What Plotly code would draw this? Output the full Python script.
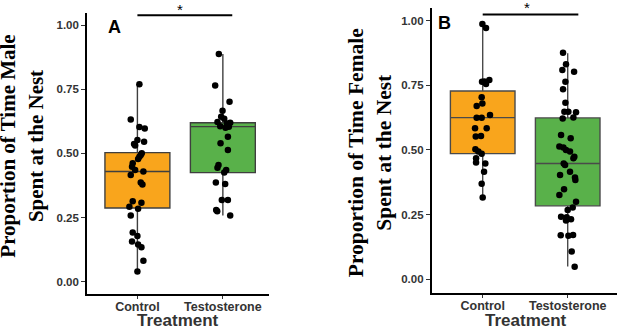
import plotly.graph_objects as go

# ---------------- data ----------------
categories = ["Control", "Testosterone"]
y_ticks = [0.0, 0.25, 0.50, 0.75, 1.00]
y_tick_labels = ["0.00", "0.25", "0.50", "0.75", "1.00"]

# Panel A (male)
male_control = [0.769, 0.632, 0.603, 0.597, 0.552, 0.545, 0.536, 0.531, 0.500, 0.494,
                0.487, 0.478, 0.461, 0.448, 0.435, 0.429, 0.416, 0.386, 0.379, 0.313,
                0.308, 0.292, 0.284, 0.258, 0.192, 0.178, 0.157, 0.145, 0.134, 0.082, 0.040]
male_control_jit = [0.023, -0.078, 0.023, 0.086, 0.0, 0.078, -0.039, -0.027, 0.051, 0.039,
                    0.023, 0.008, -0.055, -0.063, -0.027, 0.070, -0.078, 0.039, 0.059, -0.055,
                    0.047, -0.094, 0.008, -0.078, -0.055, 0.0, -0.063, 0.008, 0.047, 0.070, 0.0]
male_testo = [0.887, 0.764, 0.701, 0.666, 0.643, 0.635, 0.622, 0.619, 0.616, 0.606,
              0.604, 0.600, 0.565, 0.539, 0.513, 0.455, 0.444, 0.435, 0.425, 0.386,
              0.381, 0.318, 0.318, 0.279, 0.274, 0.258]
male_testo_jit = [-0.047, -0.090, 0.078, -0.004, -0.020, 0.016, -0.063, 0.086, 0.047, -0.031,
                  0.070, 0.031, 0.059, -0.027, 0.059, -0.051, -0.063, 0.039, 0.016, -0.082,
                  0.027, -0.012, 0.059, -0.078, -0.066, 0.086]
# box stats: [Control, Testosterone]
male_q1 = [0.287, 0.425]
male_median = [0.429, 0.604]
male_q3 = [0.503, 0.619]
male_low = [0.040, 0.258]
male_high = [0.769, 0.887]

# Panel B (female)
female_control = [0.987, 0.972, 0.764, 0.765, 0.771, 0.755, 0.704, 0.680, 0.670, 0.635,
                  0.625, 0.625, 0.584, 0.584, 0.552, 0.554, 0.503, 0.494, 0.485, 0.468,
                  0.452, 0.448, 0.416, 0.369, 0.316]
female_control_jit = [-0.004, 0.039, -0.008, 0.020, 0.078, 0.039, -0.012, -0.004, -0.071, 0.086,
                      -0.071, -0.012, -0.090, 0.047, -0.082, -0.020, -0.086, -0.051, -0.012, -0.078,
                      -0.078, 0.031, 0.016, -0.012, 0.0]
female_testo = [0.876, 0.832, 0.809, 0.803, 0.764, 0.735, 0.683, 0.648, 0.648, 0.646,
                0.626, 0.622, 0.558, 0.545, 0.513, 0.510, 0.500, 0.494, 0.474, 0.468,
                0.448, 0.442, 0.416, 0.403, 0.394, 0.384, 0.348, 0.326, 0.300, 0.278,
                0.268, 0.242, 0.240, 0.232, 0.227, 0.170, 0.168, 0.171, 0.107, 0.048]
female_testo_jit = [-0.055, -0.020, -0.063, 0.075, -0.027, -0.055, -0.027, -0.039, 0.008, 0.098,
                    0.067, -0.059, -0.078, 0.035, -0.098, -0.051, -0.020, 0.027, 0.078, 0.067,
                    -0.047, -0.031, 0.027, -0.090, 0.086, 0.090, -0.043, -0.098, 0.098, 0.059,
                    0.0, -0.078, -0.012, 0.039, -0.020, -0.082, 0.008, 0.063, 0.047, 0.082]
female_q1 = [0.486, 0.284]
female_median = [0.625, 0.448]
female_q3 = [0.728, 0.624]
female_low = [0.316, 0.049]
female_high = [0.987, 0.874]

fill_colors = ["#F9A51C", "#59B14A"]
positions = [1, 2]

fig = go.Figure()

def add_panel(xa, ya, q1, med, q3, low, high, ctrl, ctrl_jit, tst, tst_jit, wcolor):
    for i in range(2):
        fig.add_trace(go.Box(
            x=[positions[i]], q1=[q1[i]], median=[med[i]], q3=[q3[i]],
            lowerfence=[low[i]], upperfence=[high[i]],
            width=0.76, whiskerwidth=0, boxpoints=False,
            fillcolor=fill_colors[i], line=dict(color=wcolor, width=1.4),
            xaxis=xa, yaxis=ya, showlegend=False, hoverinfo="skip"))
    for vals, jit, p in [(ctrl, ctrl_jit, 1), (tst, tst_jit, 2)]:
        fig.add_trace(go.Scatter(
            x=[p + j for j in jit], y=vals, mode="markers",
            marker=dict(color="black", size=6.5),
            xaxis=xa, yaxis=ya, showlegend=False, hoverinfo="skip"))

add_panel("x", "y", male_q1, male_median, male_q3, male_low, male_high,
          male_control, male_control_jit, male_testo, male_testo_jit, "#3f3f3f")
add_panel("x2", "y2", female_q1, female_median, female_q3, female_low, female_high,
          female_control, female_control_jit, female_testo, female_testo_jit, "#4a4a4a")

tickfont = dict(family="Liberation Sans, Arial", size=11.5, color="#333333", weight="bold")
xtickfont = dict(family="Liberation Sans, Arial", size=12.5, color="#333333", weight="bold")

common_x = dict(tickvals=positions, ticktext=categories, showline=True, linecolor="black",
                linewidth=1.6, ticks="outside", ticklen=3, tickcolor="#333333", tickwidth=1,
                showgrid=False, zeroline=False, tickfont=xtickfont, fixedrange=True,
                ticklabelstandoff=-3)
common_y = dict(tickvals=y_ticks, ticktext=y_tick_labels, showline=True, linecolor="black",
                linewidth=1.6, ticks="outside", ticklen=4, tickcolor="#333333", tickwidth=1,
                showgrid=False, zeroline=False, tickfont=tickfont, fixedrange=True)

fig.update_layout(
    width=617, height=328,
    margin=dict(l=0, r=0, t=0, b=0),
    paper_bgcolor="white", plot_bgcolor="white",
    xaxis=dict(domain=[87/617, 269/617], range=[0.41, 2.54], anchor="y", **common_x),
    yaxis=dict(domain=[1-294/328, 1-12.7/328], range=[-0.048, 1.048], anchor="x", **common_y),
    xaxis2=dict(domain=[431.7/617, 1.0], range=[0.4, 2.58], anchor="y2", **common_x),
    yaxis2=dict(domain=[1-292.7/328, 1-8.3/328], range=[-0.052, 1.048], anchor="x2", **common_y),
)

# significance bars
fig.add_shape(type="line", xref="x", yref="y", x0=1.0, x1=2.11, y0=1.038, y1=1.038,
              line=dict(color="black", width=1.8))
fig.add_shape(type="line", xref="x2", yref="y2", x0=1.0, x1=2.125, y0=1.024, y1=1.024,
              line=dict(color="black", width=1.8))

ann = []
ann.append(dict(text="*", xref="x", yref="paper", x=1.5, y=1-9/328, showarrow=False,
                font=dict(family="Liberation Sans, Arial", size=15, color="black"), yanchor="middle"))
ann.append(dict(text="*", xref="x2", yref="paper", x=1.52, y=1-7.5/328, showarrow=False,
                font=dict(family="Liberation Sans, Arial", size=15, color="black"), yanchor="middle"))
ann.append(dict(text="<b>A</b>", xref="paper", yref="paper", x=106/617, y=1-26.5/328, showarrow=False,
                font=dict(family="Liberation Sans, Arial", size=18, color="black"), yanchor="middle"))
ann.append(dict(text="<b>B</b>", xref="paper", yref="paper", x=452.7/617, y=1-23.3/328, showarrow=False,
                font=dict(family="Liberation Sans, Arial", size=18, color="black"), yanchor="middle"))
# axis titles
ann.append(dict(text="<b>Proportion of Time Male<br>Spent at the Nest</b>", xref="paper", yref="paper",
                x=22/617, y=1-146.7/328, textangle=-90, showarrow=False,
                font=dict(family="Liberation Serif, Times New Roman", size=21, color="black"),
                xanchor="center", yanchor="middle"))
ann.append(dict(text="<b>Proportion of Time Female<br>Spent at the Nest</b>", xref="paper", yref="paper",
                x=369.7/617, y=1-152.5/328, textangle=-90, showarrow=False,
                font=dict(family="Liberation Serif, Times New Roman", size=21.5, color="black"),
                xanchor="center", yanchor="middle"))
ann.append(dict(text="<b>Treatment</b>", xref="paper", yref="paper", x=178/617, y=1-320.5/328,
                showarrow=False, font=dict(family="Liberation Sans, Arial", size=17, color="#333333"),
                xanchor="center", yanchor="middle"))
ann.append(dict(text="<b>Treatment</b>", xref="paper", yref="paper", x=526/617, y=1-320.5/328,
                showarrow=False, font=dict(family="Liberation Sans, Arial", size=17, color="#333333"),
                xanchor="center", yanchor="middle"))
fig.update_layout(annotations=ann)

fig.write_html("out.html", config={"displayModeBar": False},
               post_script="document.body.style.margin='0';")
